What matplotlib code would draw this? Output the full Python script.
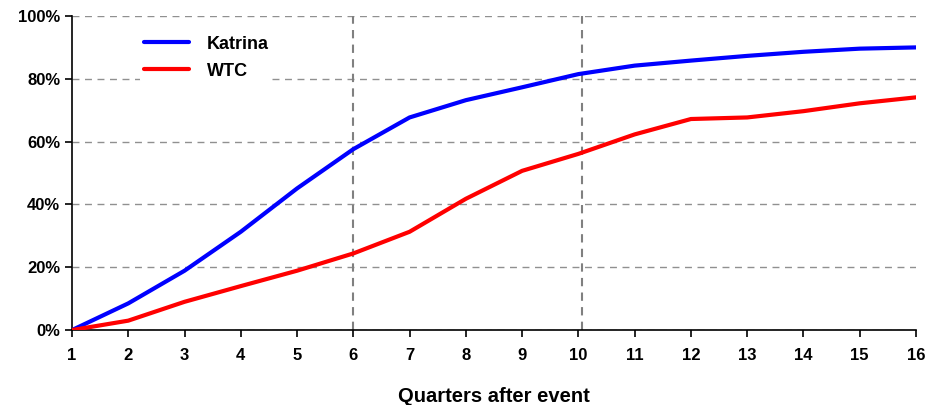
import numpy as np
import matplotlib.pyplot as plt
from matplotlib.ticker import PercentFormatter

# ── Data ──────────────────────────────────────────────────────────────────────
quarters = np.arange(1, 17)
katrina = [0.0, 8.5, 18.9, 31.3, 45.1, 57.6, 67.7, 73.2,
           77.3, 81.5, 84.2, 85.8, 87.3, 88.6, 89.6, 90.0]
wtc = [0.0, 3.0, 9.0, 14.0, 18.9, 24.4, 31.3, 41.8,
       50.7, 56.1, 62.3, 67.2, 67.7, 69.7, 72.2, 74.1]
marker_quarters = [6, 10.06]

plt.rcParams["font.family"] = ["Liberation Sans", "DejaVu Sans"]
plt.rcParams["font.weight"] = "bold"

fig = plt.figure(figsize=(9.29, 4.05), dpi=100)
ax = fig.add_axes([0.0775, 0.185, 0.9085, 0.7755])

ax.plot(quarters, katrina, color="#0000ff", linewidth=3.0, label="Katrina",
        solid_capstyle="round", zorder=4)
ax.plot(quarters, wtc, color="#ff0000", linewidth=3.0, label="WTC",
        solid_capstyle="round", zorder=4)

for q in marker_quarters:
    ax.axvline(q, color="#808080", linestyle=(0, (4, 3)), linewidth=1.5, zorder=2)

ax.set_xlim(1, 16)
ax.set_ylim(0, 100)
ax.set_xticks(quarters)
ax.set_yticks(np.arange(0, 101, 20))
ax.yaxis.set_major_formatter(PercentFormatter(decimals=0))
ax.tick_params(axis="both", labelsize=12, direction="out", length=5, width=1.2)
ax.tick_params(axis="x", pad=8)
for lab in ax.get_xticklabels() + ax.get_yticklabels():
    lab.set_fontweight("bold")

ax.grid(axis="y", color="#909090", linestyle=(0, (5, 4)), linewidth=1.0)
ax.set_axisbelow(True)
ax.spines["top"].set_visible(False)
ax.spines["right"].set_visible(False)
ax.spines["left"].set_linewidth(1.2)
ax.spines["bottom"].set_linewidth(1.2)

ax.set_xlabel("Quarters after event", fontsize=14.5, fontweight="bold", labelpad=17)

leg = ax.legend(loc="upper left", bbox_to_anchor=(0.0805, 0.949), frameon=True,
                fontsize=13, handlelength=2.5, handletextpad=1.0,
                labelspacing=0.55, borderaxespad=0, borderpad=0.2)
leg.get_frame().set_edgecolor("none")
leg.get_frame().set_facecolor("white")
leg.get_frame().set_alpha(1)
for t in leg.get_texts():
    t.set_fontweight("bold")

fig.savefig("out.png", dpi=100)
